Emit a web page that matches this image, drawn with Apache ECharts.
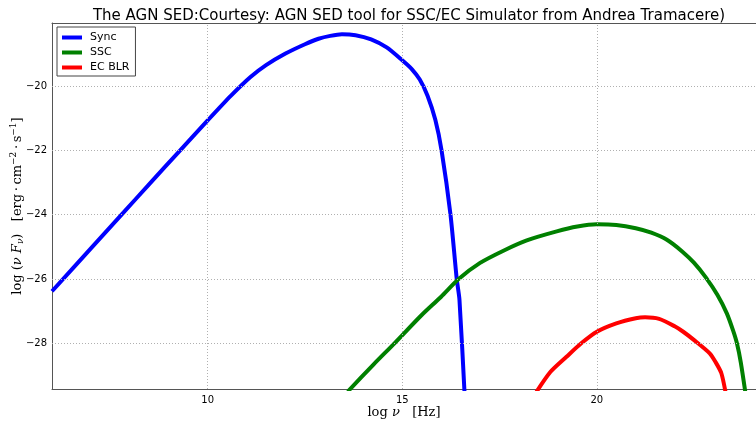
<!DOCTYPE html>
<html>
<head>
<meta charset="utf-8">
<script src="https://cdn.jsdelivr.net/npm/echarts@6/dist/echarts.min.js"></script>
<style>
  html, body { margin: 0; padding: 0; background: #fff; }
  #sedChart { width: 756px; height: 421px; }
</style>
</head>
<body>
<div id="sedChart"></div>
<script>
// values (log nu, log nuFnu)
const syncX = [6, 7, 7.84, 8.5, 9.27, 10, 10.6, 11.1, 11.5, 12, 12.5, 12.85, 13.15, 13.45, 13.8, 14.2, 14.6, 15, 15.25, 15.45, 15.65, 15.85, 16.01, 16.24, 16.4, 16.47, 16.62];
const syncY = [-26.38, -25.05, -23.93, -23.05, -22.03, -21.07, -20.3, -19.72, -19.35, -18.99, -18.7, -18.53, -18.44, -18.39, -18.42, -18.55, -18.8, -19.2, -19.48, -19.8, -20.3, -21.05, -22, -24, -26, -26.64, -30];

const sscX = [13.6, 14.26, 14.8, 15.5, 16, 16.45, 17, 17.6, 18.2, 18.97, 19.5, 20, 20.5, 21, 21.4, 21.8, 22.2, 22.5, 22.8, 23.1, 23.34, 23.5, 23.6, 23.7, 23.85];
const sscY = [-29.5, -28.66, -28.0, -27.12, -26.55, -26.0, -25.5, -25.12, -24.8, -24.52, -24.37, -24.3, -24.32, -24.42, -24.56, -24.78, -25.15, -25.5, -25.95, -26.5, -27.07, -27.6, -28.0, -28.6, -29.8];

const ecX = [18.4, 18.8, 19.22, 19.6, 20, 20.5, 21, 21.24, 21.6, 22, 22.22, 22.5, 22.9, 23.05, 23.2, 23.32];
const ecY = [-29.6, -28.9, -28.42, -28.0, -27.64, -27.38, -27.22, -27.19, -27.24, -27.47, -27.64, -27.9, -28.31, -28.58, -28.93, -29.6];

const xTicks = [10, 15, 20];
const yTicks = [-28, -26, -24, -22, -20];
const seriesNames = ['Sync', 'SSC', 'EC BLR'];

const sedChart = echarts.init(document.getElementById('sedChart'));

function zip(xs, ys) {
    let out = [];
    for (let i = 0; i < xs.length; i++) {
        out.push([xs[i], ys[i]]);
    }
    return out;
}

function minusSign(v) {
    return String(v).replace('-', '\u2212');
}

const font = 'DejaVu Sans';
const serif = 'DejaVu Serif';

// dotted grid lines, drawn through the axes
let gridLines = [];
xTicks.forEach((v) => gridLines.push({ xAxis: v }));
yTicks.forEach((v) => gridLines.push({ yAxis: v }));

function curve(name, color, xs, ys) {
    return {
        name: name,
        type: 'line',
        data: zip(xs, ys),
        showSymbol: false,
        symbol: 'none',
        smooth: 0.25,
        clip: true,
        z: 3,
        lineStyle: { color: color, width: 4 },
        itemStyle: { color: color }
    };
}

let option = {
    animation: false,
    backgroundColor: '#fff',
    title: {
        text: 'The AGN SED:Courtesy: AGN SED tool for SSC/EC Simulator from Andrea Tramacere)',
        left: 404,
        top: 4,
        textAlign: 'center',
        textStyle: { fontFamily: font, fontWeight: 'normal', fontSize: 15, color: '#000' }
    },
    legend: {
        data: seriesNames,
        orient: 'vertical',
        left: 57,
        top: 27,
        icon: 'rect',
        itemWidth: 20,
        itemHeight: 4,
        itemGap: 4,
        padding: [5, 6, 3, 5],
        borderColor: '#444',
        borderWidth: 1,
        backgroundColor: '#fff',
        textStyle: { fontFamily: font, fontSize: 11, color: '#000', padding: [0, 0, 0, 3] }
    },
    grid: { left: 52, top: 23, right: 0, bottom: 32, containLabel: false, outerBoundsMode: 'none' },
    xAxis: [
        {
            type: 'value',
            min: 6,
            max: 24.09,
            position: 'bottom',
            name: '{a|log }{i|\u03BD}{a|   [Hz]}',
            nameLocation: 'middle',
            nameGap: 17,
            nameMoveOverlap: false,
            nameTextStyle: {
                rich: {
                    a: { fontFamily: serif, fontSize: 13, color: '#000' },
                    i: { fontFamily: serif, fontSize: 13, fontStyle: 'italic', color: '#000' }
                }
            },
            axisLine: { lineStyle: { color: '#555', width: 1 } },
            axisTick: { show: false },
            splitLine: { show: false },
            axisLabel: {
                customValues: xTicks,
                fontFamily: font,
                fontSize: 10,
                color: '#000',
                margin: 6
            }
        },
        {
            type: 'value',
            min: 6,
            max: 24.09,
            position: 'top',
            axisLine: { show: true, lineStyle: { color: '#555', width: 1 } },
            axisTick: { show: false },
            axisLabel: { show: false },
            splitLine: { show: false }
        }
    ],
    yAxis: {
        type: 'value',
        min: -29.42,
        max: -18.04,
        name: '{a|log (}{i|\u03BD F}{s|\u03BD}{a|)   [erg\u2009\u00B7\u2009cm}{p|\u22122}{a|\u2009\u00B7\u2009s}{p|\u22121}{a|]}',
        nameLocation: 'middle',
        nameRotate: 90,
        nameGap: 26,
        nameMoveOverlap: false,
        nameTextStyle: {
            rich: {
                a: { fontFamily: serif, fontSize: 13, color: '#000' },
                i: { fontFamily: serif, fontSize: 13, fontStyle: 'italic', color: '#000' },
                s: { fontFamily: serif, fontSize: 9, fontStyle: 'italic', color: '#000', padding: [6, 0, 0, 0] },
                p: { fontFamily: serif, fontSize: 9, color: '#000', padding: [0, 0, 8, 0] }
            }
        },
        axisLine: { show: true, lineStyle: { color: '#555', width: 1 } },
        axisTick: { show: false },
        splitLine: { show: false },
        axisLabel: {
            customValues: yTicks,
            fontFamily: font,
            fontSize: 10,
            color: '#000',
            margin: 5,
            formatter: (val) => minusSign(val)
        }
    },
    series: [
        {
            name: 'grid',
            type: 'line',
            data: [],
            z: 1,
            silent: true,
            markLine: {
                silent: true,
                symbol: ['none', 'none'],
                label: { show: false },
                lineStyle: { color: '#b0b0b0', width: 1, type: [1, 2] },
                data: gridLines
            }
        },
        curve(seriesNames[0], '#0000ff', syncX, syncY),
        curve(seriesNames[1], '#008000', sscX, sscY),
        curve(seriesNames[2], '#ff0000', ecX, ecY)
    ]
};

sedChart.setOption(option);
</script>
</body>
</html>
